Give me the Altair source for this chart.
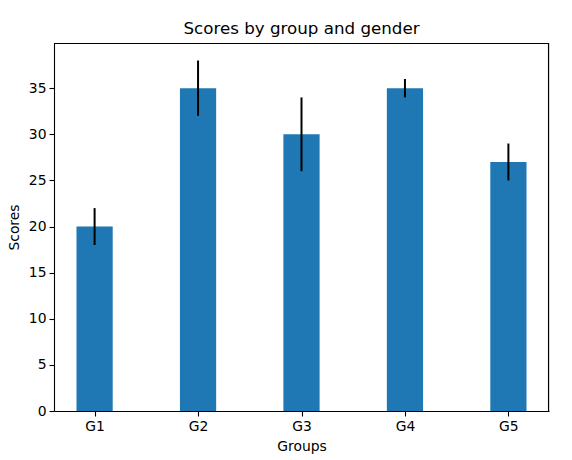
import altair as alt
import pandas as pd

groups = ["G1", "G2", "G3", "G4", "G5"]
means = [20, 35, 30, 35, 27]
stds = [2, 3, 4, 1, 2]

half = 0.175
df = pd.DataFrame({
    "pos": list(range(len(groups))),
    "group": groups,
    "mean": means,
    "std": stds,
})
df["left"] = df["pos"] - half
df["right"] = df["pos"] + half
df["lo"] = df["mean"] - df["std"]
df["hi"] = df["mean"] + df["std"]
df["zero"] = 0

label_expr = "[" + ",".join(f"'{g}'" for g in groups) + "][datum.value]"

xscale = alt.Scale(domain=[-0.3925, 4.3925], nice=False, zero=False, padding=0)
yscale = alt.Scale(domain=[0, 39.9], nice=False, padding=0)

FS = 13.9
xaxis = alt.Axis(values=list(range(len(groups))), labelExpr=label_expr, title="Groups",
                 grid=False, tickColor="black", domainColor="black", labelColor="black",
                 labelFont="DejaVu Sans", labelFontSize=FS, titleFont="DejaVu Sans",
                 titleFontSize=FS, titleFontWeight="normal", tickSize=5, labelPadding=3,
                 titlePadding=7, labelAngle=0, titleColor="black", domainWidth=1.1,
                 tickWidth=1.1, offset=0)
yaxis = alt.Axis(values=[0, 5, 10, 15, 20, 25, 30, 35], title="Scores", grid=False,
                 tickColor="black", domainColor="black", labelColor="black",
                 labelFont="DejaVu Sans", labelFontSize=FS, titleFont="DejaVu Sans",
                 titleFontSize=FS, titleFontWeight="normal", tickSize=5, labelPadding=3,
                 titlePadding=7, titleColor="black", domainWidth=1.1, tickWidth=1.1,
                 offset=0)

base = alt.Chart(df)
bars = base.mark_rect(color="#1f77b4").encode(
    x=alt.X("left:Q", scale=xscale, axis=xaxis),
    x2="right:Q",
    y=alt.Y("mean:Q", scale=yscale, axis=yaxis),
    y2="zero:Q",
)
err = base.mark_rule(color="black", strokeWidth=2).encode(
    x=alt.X("pos:Q", scale=xscale),
    y=alt.Y("lo:Q", scale=yscale),
    y2="hi:Q",
)
frame_top = alt.Chart(df.head(1)).mark_rule(color="black", strokeWidth=1.1).encode(
    x=alt.value(0), x2=alt.value(495), y=alt.value(0.5)
)
frame_right = alt.Chart(df.head(1)).mark_rule(color="black", strokeWidth=1.1).encode(
    x=alt.value(494.5), y=alt.value(0), y2=alt.value(368)
)

chart = alt.layer(bars, err, frame_top, frame_right).properties(
    width=495, height=368,
    title=alt.TitleParams("Scores by group and gender", font="DejaVu Sans", fontSize=16.7,
                          fontWeight="normal", color="black", offset=5),
    autosize=alt.AutoSizeParams(type="none"),
    padding={"left": 54, "top": 43, "right": 23, "bottom": 49},
).configure_view(strokeWidth=0).configure(background="white")

chart.save("out.html", embed_options={"renderer": "svg", "actions": False})
